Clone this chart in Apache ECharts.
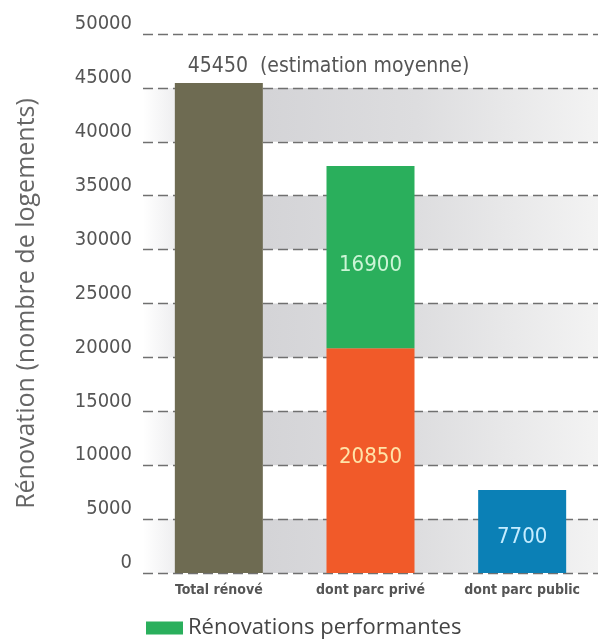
<!DOCTYPE html>
<html>
<head>
<meta charset="utf-8">
<script src="https://cdn.jsdelivr.net/npm/echarts@6/dist/echarts.min.js"></script>
<style>html,body{margin:0;padding:0;background:#fff;}#c{width:598px;height:639px;}</style>
</head>
<body>
<div id="c"></div>
<script>
const categories = ['Total rénové', 'dont parc privé', 'dont parc public'];
const baseValues = [45450, 20850, 7700];
const performantes = ['-', 16900, '-'];
const yMin = 0, yMax = 50000, yInterval = 5000;
const legendName = 'Rénovations performantes';
const yTitle = 'Rénovation (nombre de logements)';
const totalNote = '(estimation moyenne)';

const cond = "'DejaVu Sans Condensed', 'Liberation Sans Narrow', sans-serif";
const baseColors = ['#6e6b52', '#f15a29', '#0b80b6'];
const insideLabelColors = [null, '#ffe3a8', '#c4ecff'];

const chart = echarts.init(document.getElementById('c'), null, {renderer: 'canvas'});
const grad = new echarts.graphic.LinearGradient(0, 0, 1, 0, [
  {offset: 0, color: '#ffffff'},
  {offset: 0.08, color: '#ececee'},
  {offset: 0.27, color: '#d4d4d7'},
  {offset: 0.6, color: '#dddddf'},
  {offset: 1, color: '#f3f3f3'}
]);

const baseData = baseValues.map((v, i) => {
  const item = {value: v, itemStyle: {color: baseColors[i]}};
  if (i === 0) {
    item.label = {show: true, position: 'top', align: 'left', offset: [-31, 0], distance: 6,
      formatter: '{c}  ' + totalNote, color: '#555', fontSize: 21, fontFamily: cond};
  } else {
    item.label = {show: true, position: 'inside', color: insideLabelColors[i], fontSize: 22,
      fontFamily: cond, offset: [0, i === 2 ? 6 : -3]};
  }
  return item;
});

chart.setOption({
  animation: false,
  backgroundColor: '#ffffff',
  grid: {left: 143, right: -7, top: 34, bottom: 66},
  legend: {
    data: [legendName], left: 141, top: 612, icon: 'rect', itemWidth: 37, itemHeight: 13, itemGap: 11,
    textStyle: {color: '#444', fontSize: 22, fontFamily: "'Open Sans', sans-serif"}
  },
  xAxis: {
    type: 'category', data: categories,
    axisLine: {show: false}, axisTick: {show: false},
    axisLabel: {color: '#555', fontSize: 14, fontWeight: 'bold', fontFamily: cond, margin: 10}
  },
  yAxis: {
    type: 'value', min: yMin, max: yMax, interval: yInterval,
    name: yTitle, nameLocation: 'middle', nameGap: 104,
    nameTextStyle: {color: '#666', fontSize: 25, fontFamily: "'Open Sans', sans-serif"},
    axisLine: {show: false}, axisTick: {show: false},
    axisLabel: {color: '#555', fontSize: 20, fontFamily: cond, margin: 11, verticalAlign: 'bottom',
      formatter: v => String(v)},
    splitLine: {show: true, lineStyle: {color: '#707070', width: 1.3, type: [10, 5]}},
    splitArea: {show: true, areaStyle: {color: [grad, 'rgba(255,255,255,0)']}}
  },
  series: [
    {name: 'base', type: 'bar', stack: 's', barWidth: 88, data: baseData},
    {name: legendName, type: 'bar', stack: 's', barWidth: 88, itemStyle: {color: '#2aaf5c'},
     label: {show: true, position: 'inside', color: '#ccf5d6', fontSize: 22, fontFamily: cond, offset: [0, 8]},
     data: performantes}
  ]
});
</script>
</body>
</html>
